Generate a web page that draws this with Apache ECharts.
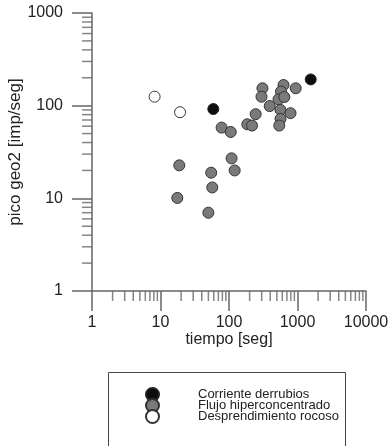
<!DOCTYPE html>
<html>
<head>
<meta charset="utf-8">
<script src="https://cdn.jsdelivr.net/npm/echarts@6/dist/echarts.min.js"></script>
<style>
  html, body { margin: 0; padding: 0; background: #fff; }
  #chart { width: 389px; height: 446px; }
</style>
</head>
<body>
<div id="chart"></div>
<script>
// datos: [tiempo (seg), pico geo2 (imp/seg)]
const corrienteDerrubios = [[59, 92], [1560, 192]];
const flujoHiperconcentrado = [
  [18.8, 22.7], [17.6, 10.1], [55, 18.9], [57, 13.1], [50, 7.0],
  [78, 58], [106, 52], [109, 27], [121, 20],
  [185, 63], [217, 61], [245, 81],
  [308, 154], [298, 125], [393, 99],
  [625, 167], [574, 142], [528, 117], [642, 124],
  [565, 90], [565, 72], [542, 61], [791, 83], [942, 154]
];
const desprendimientoRocoso = [[8.2, 125], [19.3, 85]];

const nombres = ['Corriente derrubios', 'Flujo hiperconcentrado', 'Desprendimiento rocoso'];

// marcas menores de los ejes logaritmicos
const xMinorTicks = [2, 3, 4, 5, 6, 7, 8, 9, 20, 30, 40, 50, 60, 70, 80, 90,
  200, 300, 400, 500, 600, 700, 800, 900, 2000, 3000, 4000, 5000, 6000, 7000, 8000, 9000];
const yMinorTicks = [2, 3, 4, 5, 6, 7, 8, 9, 20, 30, 40, 50, 60, 70, 80, 90,
  200, 300, 400, 500, 600, 700, 800, 900];

const axisColor = '#666';
const textColor = '#222';
const fontFamily = 'Liberation Sans, Arial, sans-serif';

// sin separador de miles
function fmtLog(v) {
  return String(Math.round(v));
}

const myChart = echarts.init(document.getElementById('chart'));

const option = {
  animation: false,
  textStyle: { fontFamily: fontFamily },
  grid: {
    left: 92,
    right: 23,
    top: 13,
    bottom: 155,
    outerBoundsMode: 'none',
  },
  graphic: [{
    type: 'rect',
    left: 106,
    top: 370,
    shape: { width: 237, height: 90 },
    style: { fill: 'none', stroke: '#444', lineWidth: 1 },
  }],
  legend: {
    data: nombres,
    orient: 'vertical',
    left: 140,
    top: 382,
    itemWidth: 13,
    itemHeight: 13,
    itemGap: -4,
    textStyle: {
      fontSize: 13,
      color: textColor,
      lineHeight: 13,
      padding: [0, 0, 0, 34],
    },
  },
  xAxis: {
    type: 'log',
    logBase: 10,
    min: 1,
    max: 10000,
    name: 'tiempo [seg]',
    nameLocation: 'middle',
    nameGap: 41,
    nameMoveOverlap: false,
    nameTextStyle: { fontSize: 16, color: textColor },
    axisLine: { lineStyle: { color: axisColor, width: 1.5 } },
    axisTick: { show: true, inside: false, length: 20, lineStyle: { color: axisColor, width: 1.5 } },
    axisLabel: { fontSize: 16, color: textColor, margin: 24, formatter: fmtLog },
    splitLine: { show: false },
  },
  yAxis: {
    type: 'log',
    logBase: 10,
    min: 1,
    max: 1000,
    name: 'pico geo2 [imp/seg]',
    nameLocation: 'middle',
    nameGap: 68,
    nameMoveOverlap: false,
    nameTextStyle: { fontSize: 17, color: textColor },
    axisLine: { lineStyle: { color: axisColor, width: 1.5 } },
    axisTick: { show: true, inside: false, length: 20, lineStyle: { color: axisColor, width: 1.5 } },
    axisLabel: { fontSize: 16, color: textColor, margin: 29, formatter: fmtLog },
    splitLine: { show: false },
  },
  series: [
    {
      // marcas menores eje x
      type: 'scatter',
      silent: true,
      clip: false,
      symbol: 'rect',
      symbolSize: [1.5, 10],
      symbolOffset: [0, 5],
      itemStyle: { color: axisColor },
      data: xMinorTicks.map(v => [v, 1]),
      z: 1,
    },
    {
      // marcas menores eje y
      type: 'scatter',
      silent: true,
      clip: false,
      symbol: 'rect',
      symbolSize: [10, 1.5],
      symbolOffset: [-5, 0],
      itemStyle: { color: axisColor },
      data: yMinorTicks.map(v => [1, v]),
      z: 1,
    },
    {
      name: nombres[1],
      type: 'scatter',
      symbolSize: 11,
      itemStyle: { color: '#7a7a7a', borderColor: '#333', borderWidth: 1, opacity: 1 },
      data: flujoHiperconcentrado,
      z: 3,
    },
    {
      name: nombres[0],
      type: 'scatter',
      symbolSize: 11,
      itemStyle: { color: '#0d0d0d', borderColor: '#222', borderWidth: 1, opacity: 1 },
      data: corrienteDerrubios,
      z: 3,
    },
    {
      name: nombres[2],
      type: 'scatter',
      symbolSize: 11,
      itemStyle: { color: '#fff', borderColor: '#333', borderWidth: 1, opacity: 1 },
      data: desprendimientoRocoso,
      z: 3,
    },
  ],
};

myChart.setOption(option);
</script>
</body>
</html>
